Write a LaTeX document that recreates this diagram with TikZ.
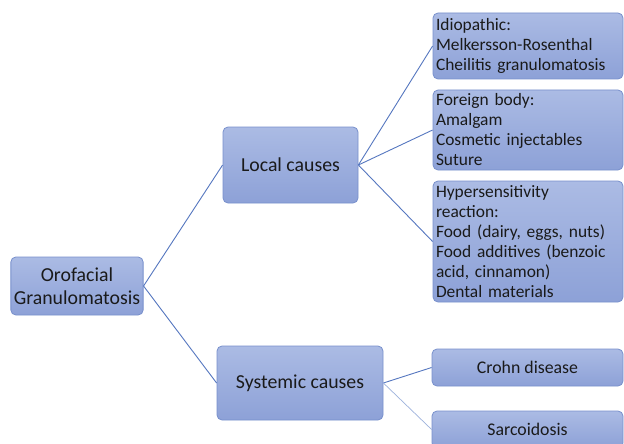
\documentclass[tikz,border=0pt]{standalone}
\usepackage{fontspec}
\setmainfont{Carlito}
\definecolor{boxtop}{HTML}{ABBBE4}
\definecolor{boxbot}{HTML}{8DA1D7}
\definecolor{boxedge}{HTML}{7890CC}
\definecolor{linkc}{HTML}{5577C0}
\definecolor{linklight}{HTML}{9DB2DC}
\definecolor{txt}{HTML}{1A1A1A}
\tikzset{
  cbox/.style={draw=boxedge, line width=0.8pt, rounded corners=5pt,
    top color=boxtop, bottom color=boxbot, text=txt, inner xsep=3pt, inner ysep=1pt},
  bigtxt/.style={font=\fontsize{19.8}{23}\selectfont, align=center},
  leaf/.style={font=\fontsize{17.4}{20}\selectfont, align=left},
  leafc/.style={font=\fontsize{17.8}{20}\selectfont, align=center},
  link/.style={draw=linkc, line width=0.9pt},
}
\begin{document}
\begin{tikzpicture}[x=1pt,y=-1pt]
\useasboundingbox (0,0) rectangle (624,444);
\fill[white] (0,0) rectangle (624,444);
% level 0
\node[cbox,bigtxt,minimum width=132pt,minimum height=58pt] (root) at (77,286) {Orofacial\\Granulomatosis};
% level 1
\node[cbox,bigtxt,minimum width=135pt,minimum height=76pt] (local) at (290.5,165) {Local causes};
\node[cbox,bigtxt,minimum width=166pt,minimum height=74pt] (sys) at (300,383) {Systemic causes};
% level 2
\node[cbox,leaf,minimum width=190pt,text width=184pt,minimum height=66pt] (idio) at (528,46)
  {Idiopathic:\\Melkersson-Rosenthal\\Cheilitis granulomatosis};
\node[cbox,leaf,minimum width=190pt,text width=184pt,minimum height=80pt] (foreign) at (528,130)
  {Foreign body:\\Amalgam\\Cosmetic injectables\\Suture};
\node[cbox,leaf,minimum width=190pt,text width=184pt,minimum height=121pt] (hyper) at (528,241.5)
  {Hypersensitivity\\reaction:\\Food (dairy, eggs, nuts)\\Food additives (benzoic\\acid, cinnamon)\\Dental materials};
\node[cbox,leafc,minimum width=191pt,minimum height=37pt] (crohn) at (527.5,367.5) {Crohn disease};
\node[cbox,leafc,minimum width=191pt,minimum height=37pt] (sarc) at (527.5,429.5) {Sarcoidosis};
% connectors
\draw[link] (root.east) -- (local.west);
\draw[link] (root.east) -- (sys.west);
\draw[link] (local.east) -- (idio.west);
\draw[link] (local.east) -- (foreign.west);
\draw[link] (local.east) -- (hyper.west);
\draw[link] (sys.east) -- (crohn.west);
\draw[draw=linklight, line width=0.7pt] (sys.east) -- (sarc.west);
\end{tikzpicture}
\end{document}
